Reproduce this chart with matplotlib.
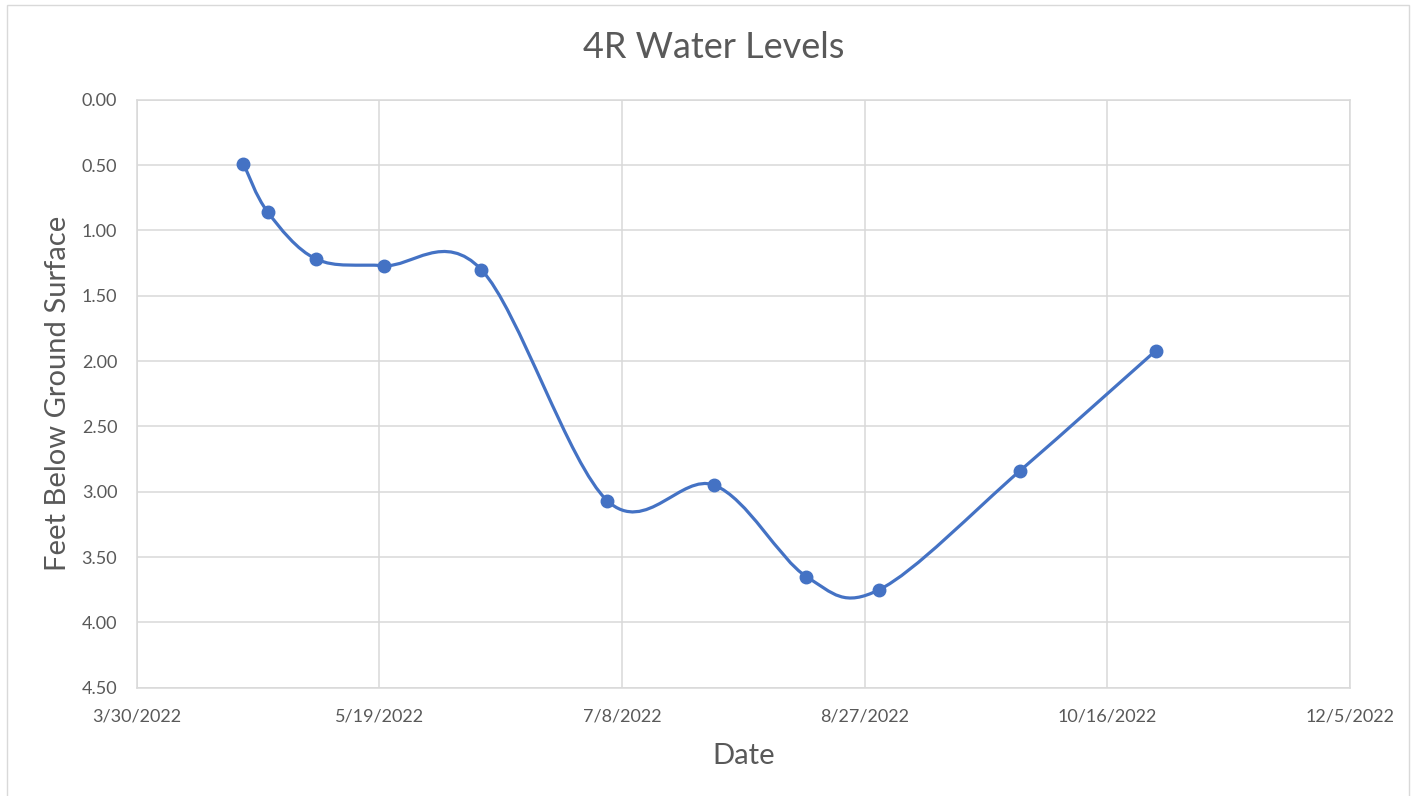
from datetime import date
import matplotlib
matplotlib.use("Agg")
import matplotlib.pyplot as plt
import matplotlib.dates as mdates
from matplotlib.path import Path
from matplotlib.patches import PathPatch, Rectangle
from matplotlib.ticker import FixedLocator, FormatStrFormatter, FuncFormatter

# measurement dates and depth to water (feet below ground surface)
dates = [
    date(2022, 4, 21), date(2022, 4, 26), date(2022, 5, 6), date(2022, 5, 20),
    date(2022, 6, 9), date(2022, 7, 5), date(2022, 7, 27), date(2022, 8, 15),
    date(2022, 8, 30), date(2022, 9, 28), date(2022, 10, 26),
]
depths = [0.49, 0.86, 1.22, 1.27, 1.30, 3.07, 2.95, 3.65, 3.75, 2.84, 1.92]

x_ticks = [date(2022, 3, 30), date(2022, 5, 19), date(2022, 7, 8),
           date(2022, 8, 27), date(2022, 10, 16), date(2022, 12, 5)]
y_ticks = [0.0, 0.5, 1.0, 1.5, 2.0, 2.5, 3.0, 3.5, 4.0, 4.5]

TEXT = "#595959"
GRID = "#d9d9d9"
BLUE = "#4472c4"

plt.rcParams["font.family"] = ["Lato", "DejaVu Sans"]


def smooth_path(xs, ys):
    # excel style smoothed line: cubic bezier through every point
    pts = list(zip(xs, ys))
    n = len(pts)
    verts = [pts[0]]
    codes = [Path.MOVETO]
    for i in range(n - 1):
        p0 = pts[i - 1] if i > 0 else pts[i]
        p1 = pts[i]
        p2 = pts[i + 1]
        p3 = pts[i + 2] if i + 2 < n else pts[i + 1]
        c1 = (p1[0] + (p2[0] - p0[0]) / 6, p1[1] + (p2[1] - p0[1]) / 6)
        c2 = (p2[0] - (p3[0] - p1[0]) / 6, p2[1] - (p3[1] - p1[1]) / 6)
        verts += [c1, c2, p2]
        codes += [Path.CURVE4] * 3
    return Path(verts, codes)


def main():
    fig = plt.figure(figsize=(14.12, 7.96), dpi=100)
    W, H = 1412, 796
    fig.patches.append(Rectangle((7 / W, -0.02), 1402 / W, (796 - 5) / H + 0.02,
                                 transform=fig.transFigure, fill=False,
                                 edgecolor="#d9d9d9", linewidth=1))

    ax = fig.add_axes([136.7 / W, (796 - 687.7) / H, 1213.3 / W, 588 / H])

    xnum = mdates.date2num(dates)
    ax.add_patch(PathPatch(smooth_path(xnum, depths), fill=False,
                           edgecolor=BLUE, linewidth=2.3, zorder=3))
    ax.plot(xnum, depths, linestyle="none", marker="o", markersize=9,
            color=BLUE, zorder=4)

    tick_nums = mdates.date2num(x_ticks)
    ax.set_xlim(tick_nums[0], tick_nums[-1])
    ax.set_ylim(4.5, 0.0)
    ax.xaxis.set_major_locator(FixedLocator(tick_nums))
    ax.xaxis.set_major_formatter(FuncFormatter(
        lambda v, p: "{d.month}/{d.day}/{d.year}".format(d=mdates.num2date(v))))
    ax.yaxis.set_major_locator(FixedLocator(y_ticks))
    ax.yaxis.set_major_formatter(FormatStrFormatter("%.2f"))

    ax.grid(True, color=GRID, linewidth=1.1)
    ax.set_axisbelow(True)
    for s in ax.spines.values():
        s.set_color(GRID)
        s.set_linewidth(1.1)
    ax.tick_params(length=0, labelsize=13, labelcolor=TEXT)
    ax.tick_params(axis="x", pad=15)
    ax.tick_params(axis="y", pad=14)

    fig.text(714 / W, 1 - 48 / H, "4R Water Levels", fontsize=26, color=TEXT,
             ha="center", va="center")
    ax.set_xlabel("Date", fontsize=21, color=TEXT, labelpad=13)
    ax.set_ylabel("Feet Below Ground Surface", fontsize=21, color=TEXT,
                  labelpad=8)

    fig.savefig("out.png", dpi=100)


if __name__ == "__main__":
    main()
